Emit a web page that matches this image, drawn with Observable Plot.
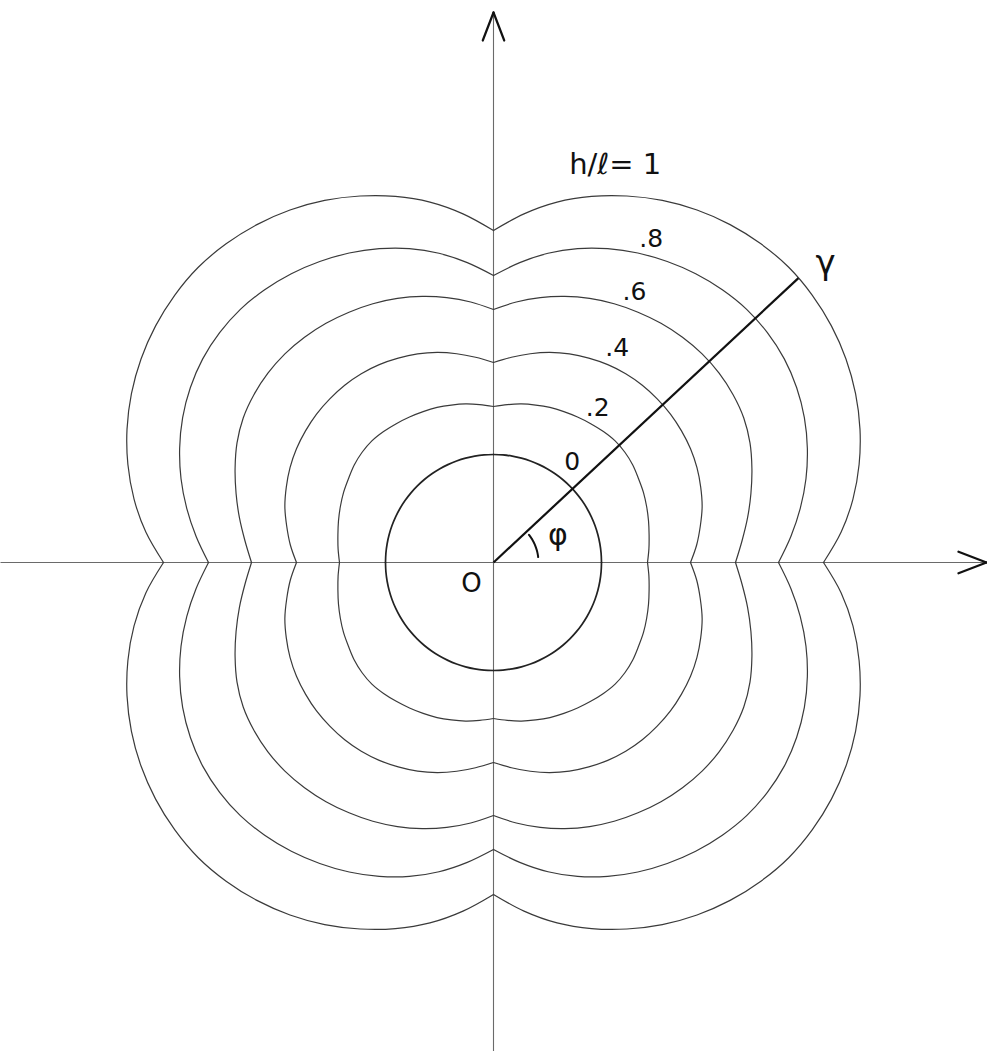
<!DOCTYPE html>
<html>
<head>
<meta charset="utf-8">
<script src="https://cdn.jsdelivr.net/npm/d3@7"></script>
<script src="https://cdn.jsdelivr.net/npm/@observablehq/plot@0.6"></script>
<style>
  html, body { margin: 0; padding: 0; background: #fff; }
  #chart svg { display: block; }
</style>
</head>
<body>
<div id="chart"></div>
<script>
// Polar angle φ (degrees) at which the radius of each curve is tabulated (first quadrant).
const angles = [0, 5, 10, 15, 20, 25, 30, 35, 40, 45, 50, 55, 60, 65, 70, 75, 80, 85, 90];

// Parameter value h/ℓ of each curve.
const hOverL = ["0", ".2", ".4", ".6", ".8", "1"];

// Radius γ(φ) of each curve of constant h/ℓ.
const gamma00 = [108, 108, 108, 108, 108, 108, 108, 108, 108, 108, 108, 108, 108, 108, 108, 108, 108, 108, 108];
const gamma02 = [154, 156, 158, 160.5, 163, 165.5, 167.5, 170, 171.5, 172, 171, 169.5, 168, 166.5, 165, 163, 161, 158.5, 156];
const gamma04 = [197, 204, 210, 216, 220.5, 224.5, 227.5, 229.5, 231, 231.5, 231.5, 230.5, 228.5, 225.5, 222, 217.5, 212, 206, 200];
const gamma06 = [242, 249.5, 258, 266.5, 275, 283, 289, 292.5, 294.5, 295, 294, 292, 289, 285.5, 281, 275.5, 269, 261.5, 253];
const gamma08 = [285, 298.5, 311.5, 323.5, 334, 343, 350, 355, 357.5, 358, 356, 352.5, 347.5, 341.5, 334, 325, 314, 301, 287];
const gamma10 = [330, 349, 365, 378.5, 390, 399.5, 407, 412.5, 416, 417.5, 416, 412.5, 407, 399.5, 390, 379, 366, 350, 332];

// Direction of the radius vector γ drawn out to the outermost curve.
const rayAngle = 43;

const curves = [gamma00, gamma02, gamma04, gamma06, gamma08, gamma10];

// ---- layout ----
const W = 987, H = 1051;
const xDomain = [-493, 494];
const yDomain = [-489, 562];
const labelAngle = [52, 56, 60, 62.5, 64, 73];
const labelGap = [20, 17, 19, 18, 17, 33];
const font = "DejaVu Sans";

const rad = (deg) => deg * Math.PI / 180;

// Linear lookup of a curve's radius at any angle of the first quadrant.
function radiusAt(rs, a) {
  for (let k = 0; k < angles.length - 1; k++) {
    if (a >= angles[k] && a <= angles[k + 1]) {
      const t = (a - angles[k]) / (angles[k + 1] - angles[k]);
      return rs[k] + t * (rs[k + 1] - rs[k]);
    }
  }
  return rs[rs.length - 1];
}

// Each curve is symmetric about both axes: mirror the first-quadrant arc into all four.
const quadrants = [[1, 1], [-1, 1], [-1, -1], [1, -1]];
const points = [];
curves.forEach((rs, ci) => {
  quadrants.forEach(([sx, sy], qi) => {
    angles.forEach((a, k) => {
      points.push({
        x: sx * rs[k] * Math.cos(rad(a)),
        y: sy * rs[k] * Math.sin(rad(a)),
        key: `${ci}-${qi}`,
        level: ci
      });
    });
  });
});

// Curve labels, set just outside each curve.
const labels = hOverL.map((v, i) => {
  const a = labelAngle[i];
  const r = radiusAt(curves[i], a) + labelGap[i];
  return {
    text: i === hOverL.length - 1 ? `h/ℓ= ${v}` : v,
    x: r * Math.cos(rad(a)),
    y: r * Math.sin(rad(a)),
    size: i === hOverL.length - 1 ? 29 : 25
  };
});

// Radius vector γ.
const rayLength = radiusAt(gamma10, rayAngle);
const ray = [{x1: 0, y1: 0, x2: rayLength * Math.cos(rad(rayAngle)), y2: rayLength * Math.sin(rad(rayAngle))}];
const rayLabel = [{
  text: "γ",
  x: (rayLength + 30) * Math.cos(rad(rayAngle - 1)),
  y: (rayLength + 30) * Math.sin(rad(rayAngle - 1))
}];

// Angle arc for φ.
const arc = d3.range(7, 39, 1).map(a => ({x: 45 * Math.cos(rad(a)), y: 45 * Math.sin(rad(a))}));
const phiLabel = [{text: "φ", x: 70 * Math.cos(rad(23)), y: 70 * Math.sin(rad(23))}];
const originLabel = [{text: "O", x: -22, y: -21}];

// Coordinate axes with open arrowheads.
const axes = [
  {x1: xDomain[0], y1: 0, x2: 493, y2: 0},
  {x1: 0, y1: yDomain[0], x2: 0, y2: 550}
];
const headLen = 30, headHalf = 21;
const wings = [];
axes.forEach(a => {
  const dx = a.x2 - a.x1, dy = a.y2 - a.y1, len = Math.hypot(dx, dy);
  const ux = dx / len, uy = dy / len;
  [-1, 1].forEach(s => {
    const t = rad(s * headHalf);
    const rx = ux * Math.cos(t) - uy * Math.sin(t);
    const ry = ux * Math.sin(t) + uy * Math.cos(t);
    wings.push({x1: a.x2, y1: a.y2, x2: a.x2 - headLen * rx, y2: a.y2 - headLen * ry});
  });
});

const chart = Plot.plot({
  width: W,
  height: H,
  margin: 0,
  axis: null,
  x: {domain: xDomain},
  y: {domain: yDomain},
  style: {background: "#fff"},
  marks: [
    Plot.link(axes, {x1: "x1", y1: "y1", x2: "x2", y2: "y2", stroke: "#6a6a6a", strokeWidth: 1.1}),
    Plot.link(wings, {x1: "x1", y1: "y1", x2: "x2", y2: "y2", stroke: "#111", strokeWidth: 2.2, strokeLinecap: "round"}),
    Plot.line(points.filter(d => d.level > 0), {
      x: "x", y: "y", z: "key", curve: "catmull-rom",
      stroke: "#3a3a3a", strokeWidth: 1.2
    }),
    Plot.line(points.filter(d => d.level === 0), {
      x: "x", y: "y", z: "key", curve: "catmull-rom",
      stroke: "#222", strokeWidth: 1.7
    }),
    Plot.link(ray, {x1: "x1", y1: "y1", x2: "x2", y2: "y2", stroke: "#111", strokeWidth: 2.2}),
    Plot.line(arc, {x: "x", y: "y", stroke: "#111", strokeWidth: 2, curve: "catmull-rom"}),
    Plot.text(labels.filter(d => d.size === 25), {x: "x", y: "y", text: "text", fontSize: 25, fontFamily: font, fill: "#111"}),
    Plot.text(labels.filter(d => d.size === 29), {x: "x", y: "y", text: "text", fontSize: 29, fontFamily: font, fill: "#111"}),
    Plot.text(rayLabel, {x: "x", y: "y", text: "text", fontSize: 34, fontFamily: font, fill: "#111"}),
    Plot.text(phiLabel, {x: "x", y: "y", text: "text", fontSize: 30, fontFamily: font, fill: "#111"}),
    Plot.text(originLabel, {x: "x", y: "y", text: "text", fontSize: 26, fontFamily: font, fill: "#111"})
  ]
});

document.getElementById("chart").appendChild(chart);
</script>
</body>
</html>
